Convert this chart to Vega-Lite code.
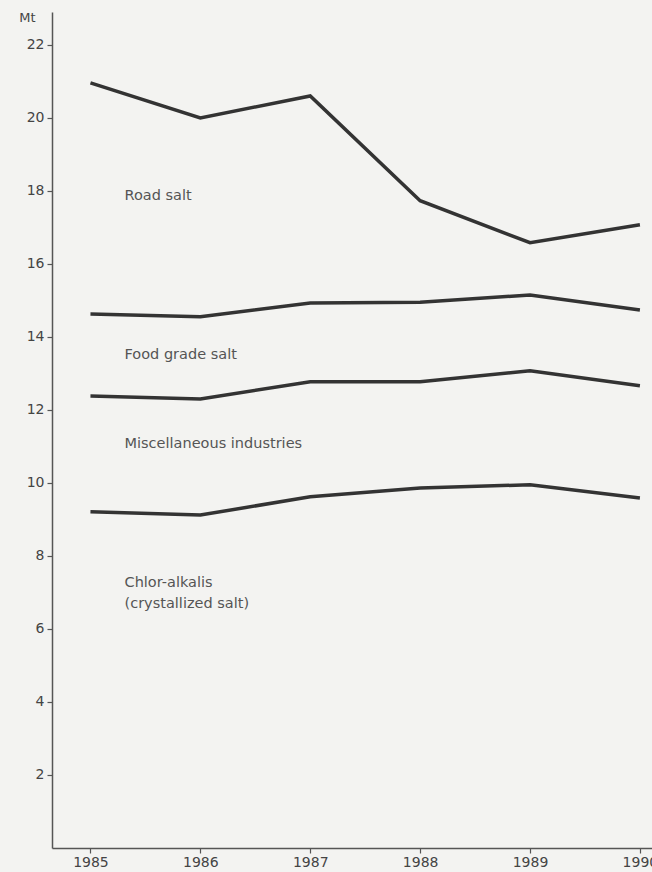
{
  "$schema": "https://vega.github.io/schema/vega-lite/v6.json",
  "width": 600,
  "height": 836,
  "autosize": {"type": "none"},
  "padding": {"left": 52, "top": 12, "right": 0, "bottom": 24},
  "background": "#f3f3f1",
  "config": {
    "view": {"stroke": null},
    "font": "DejaVu Sans",
    "axis": {"grid": false, "domainColor": "#555", "domainWidth": 1.5, "tickColor": "#555", "tickWidth": 1.2, "tickSize": 5, "labelColor": "#444", "labelFontSize": 14, "labelFont": "DejaVu Sans"}
  },
  "datasets": {
    "lines": [
      {"series": "Road salt", "year": 1985, "value": 20.96},
      {"series": "Road salt", "year": 1986, "value": 20.0},
      {"series": "Road salt", "year": 1987, "value": 20.6},
      {"series": "Road salt", "year": 1988, "value": 17.73},
      {"series": "Road salt", "year": 1989, "value": 16.58},
      {"series": "Road salt", "year": 1990, "value": 17.07},
      {"series": "Food grade salt", "year": 1985, "value": 14.63},
      {"series": "Food grade salt", "year": 1986, "value": 14.55},
      {"series": "Food grade salt", "year": 1987, "value": 14.93},
      {"series": "Food grade salt", "year": 1988, "value": 14.95},
      {"series": "Food grade salt", "year": 1989, "value": 15.15},
      {"series": "Food grade salt", "year": 1990, "value": 14.74},
      {"series": "Miscellaneous industries", "year": 1985, "value": 12.38},
      {"series": "Miscellaneous industries", "year": 1986, "value": 12.3},
      {"series": "Miscellaneous industries", "year": 1987, "value": 12.77},
      {"series": "Miscellaneous industries", "year": 1988, "value": 12.77},
      {"series": "Miscellaneous industries", "year": 1989, "value": 13.07},
      {"series": "Miscellaneous industries", "year": 1990, "value": 12.66},
      {"series": "Chlor-alkalis", "year": 1985, "value": 9.21},
      {"series": "Chlor-alkalis", "year": 1986, "value": 9.12},
      {"series": "Chlor-alkalis", "year": 1987, "value": 9.62},
      {"series": "Chlor-alkalis", "year": 1988, "value": 9.86},
      {"series": "Chlor-alkalis", "year": 1989, "value": 9.95},
      {"series": "Chlor-alkalis", "year": 1990, "value": 9.59}
    ],
    "labels": [
      {"text": "Road salt", "year": 1985.31, "value": 17.86},
      {"text": "Food grade salt", "year": 1985.31, "value": 13.5},
      {"text": "Miscellaneous industries", "year": 1985.31, "value": 11.07},
      {"text": "Chlor-alkalis", "year": 1985.31, "value": 7.26},
      {"text": "(crystallized salt)", "year": 1985.31, "value": 6.68}
    ]
  },
  "layer": [
    {
      "data": {"name": "lines"},
      "mark": {"type": "line", "color": "#333", "strokeWidth": 3.5, "strokeJoin": "miter"},
      "encoding": {
        "x": {"field": "year", "type": "quantitative", "scale": {"domain": [1984.65, 1990.11], "nice": false, "zero": false},
              "axis": {"values": [1985, 1986, 1987, 1988, 1989, 1990], "format": "d", "title": null, "labelPadding": 2}},
        "y": {"field": "value", "type": "quantitative", "scale": {"domain": [0, 22.9], "nice": false},
              "axis": {"values": [2, 4, 6, 8, 10, 12, 14, 16, 18, 20, 22], "title": "Mt", "titleAngle": 0, "titleX": -17, "titleY": 5, "titleAlign": "right", "titleBaseline": "middle", "titleFontSize": 13, "titleFont": "DejaVu Sans", "titleFontWeight": "normal", "titleColor": "#444", "labelPadding": 3}},
        "detail": {"field": "series", "type": "nominal"}
      }
    },
    {
      "data": {"name": "labels"},
      "mark": {"type": "text", "align": "left", "baseline": "middle", "fontSize": 14.5, "color": "#555", "font": "DejaVu Sans"},
      "encoding": {
        "x": {"field": "year", "type": "quantitative"},
        "y": {"field": "value", "type": "quantitative"},
        "text": {"field": "text", "type": "nominal"}
      }
    }
  ]
}
